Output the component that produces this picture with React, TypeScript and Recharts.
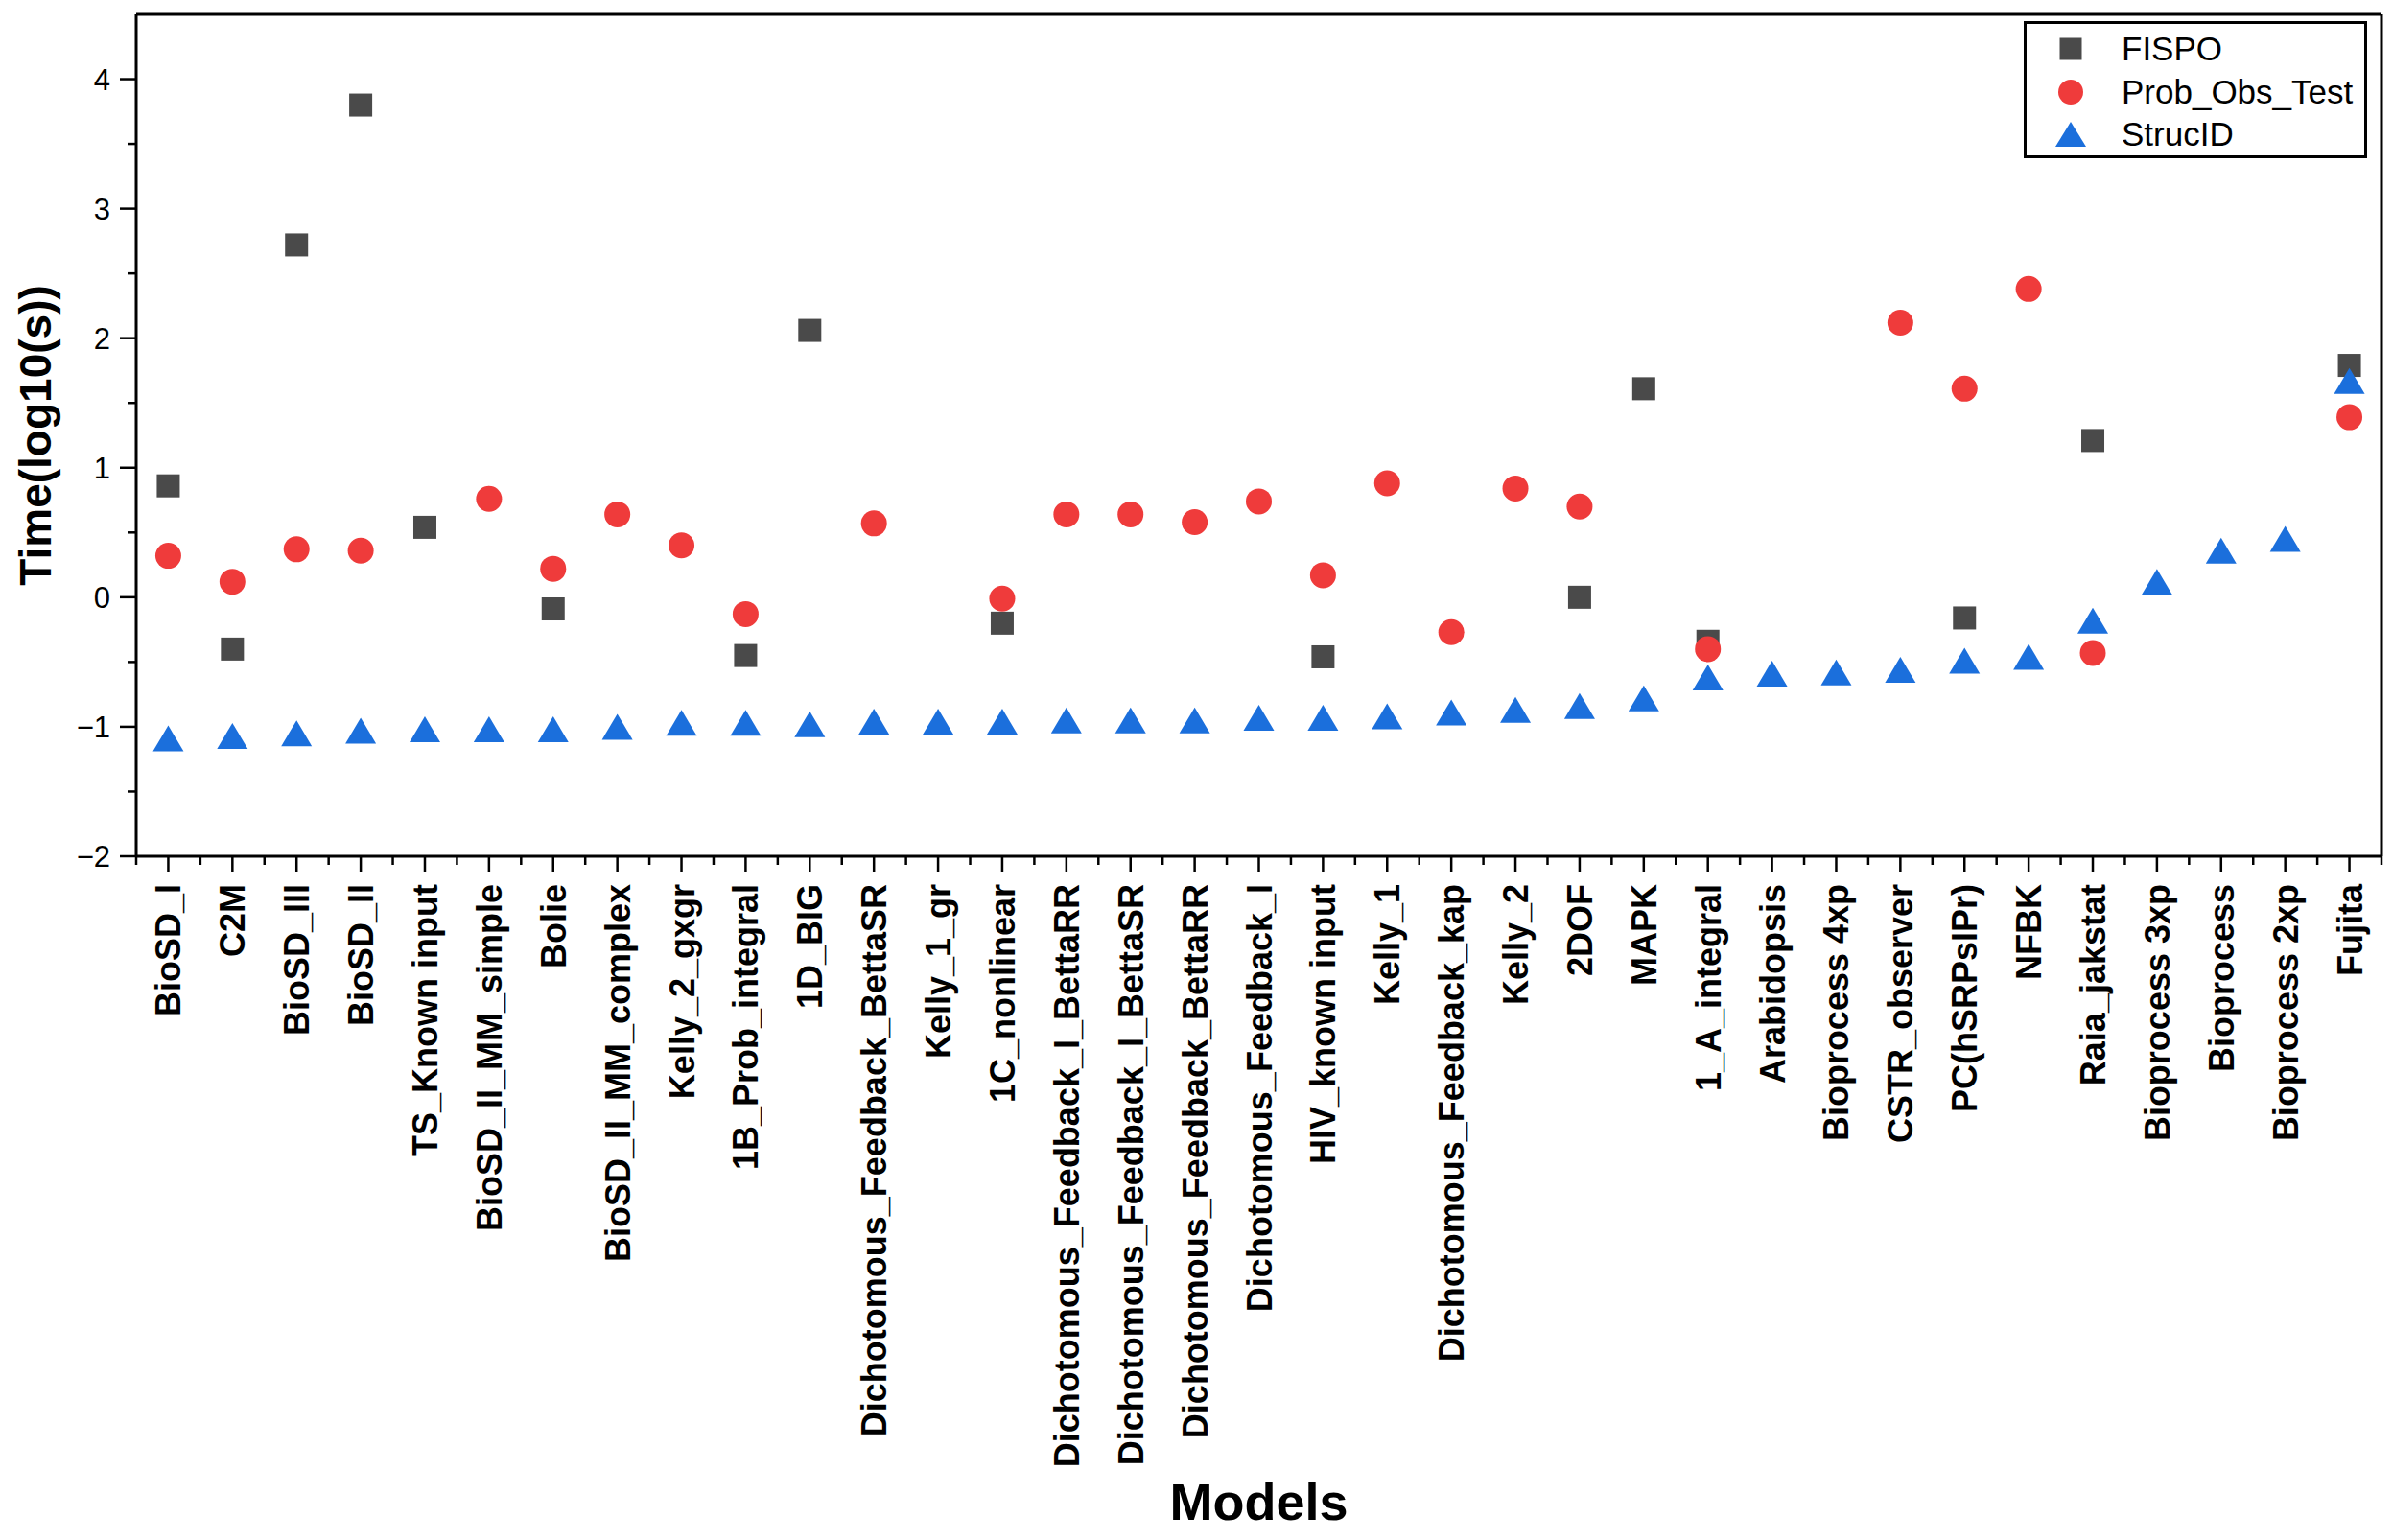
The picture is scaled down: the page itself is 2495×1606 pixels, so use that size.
import React from 'react';
import { ScatterChart, Scatter, XAxis, YAxis, ReferenceLine, Legend } from 'recharts';

const FONT = '"Liberation Sans", Arial, sans-serif';

// model names along the x axis
const models = [
  'BioSD_I', 'C2M', 'BioSD_III', 'BioSD_II', 'TS_Known input', 'BioSD_II_MM_simple', 'Bolie',
  'BioSD_II_MM_complex', 'Kelly_2_gxgr', '1B_Prob_integral', '1D_BIG', 'Dichotomous_Feedback_BettaSR',
  'Kelly_1_gr', '1C_nonlinear', 'Dichotomous_Feedback_I_BettaRR', 'Dichotomous_Feedback_I_BettaSR',
  'Dichotomous_Feedback_BettaRR', 'Dichotomous_Feedback_I', 'HIV_known input', 'Kelly_1',
  'Dichotomous_Feedback_kap', 'Kelly_2', '2DOF', 'MAPK', '1_A_integral', 'Arabidopsis',
  'Bioprocess 4xp', 'CSTR_observer', 'PC(hSRPsIPr)', 'NFBK', 'Raia_jakstat', 'Bioprocess 3xp',
  'Bioprocess', 'Bioprocess 2xp', 'Fujita',
];

// log10 of run time in seconds, null = no result
const fispo = [
  0.86, -0.40, 2.72, 3.80, 0.54, null, -0.09, null, null, -0.45, 2.06, null,
  null, -0.20, null, null, null, null, -0.46, null, null, null, 0.00, 1.61,
  -0.34, null, null, null, -0.16, null, 1.21, null, null, null, 1.79,
];
const probObsTest = [
  0.32, 0.12, 0.37, 0.36, null, 0.76, 0.22, 0.64, 0.40, -0.13, null, 0.57,
  null, -0.01, 0.64, 0.64, 0.58, 0.74, 0.17, 0.88, -0.27, 0.84, 0.70, null,
  -0.40, null, null, 2.12, 1.61, 2.38, -0.43, null, null, null, 1.39,
];
const strucId = [
  -1.09, -1.07, -1.05, -1.03, -1.02, -1.02, -1.02, -1.00, -0.97, -0.97, -0.98, -0.96,
  -0.96, -0.96, -0.95, -0.95, -0.95, -0.93, -0.93, -0.92, -0.89, -0.87, -0.84, -0.78,
  -0.62, -0.59, -0.58, -0.56, -0.49, -0.46, -0.18, 0.12, 0.36, 0.45, 1.67,
];

const yTicks = [-2, -1.5, -1, -0.5, 0, 0.5, 1, 1.5, 2, 2.5, 3, 3.5, 4];
const xTicks = Array.from({ length: models.length * 2 + 1 }, (_, i) => 0.5 + i * 0.5);

const toPoints = (vals: (number | null)[]) =>
  vals.map((v, i) => (v == null ? null : { x: i + 1, y: v })).filter(Boolean) as { x: number; y: number }[];

const COLORS = { fispo: '#4a4a4a', prob: '#ef3b3b', struc: '#1b6fdc' };

const SquareShape = (p: any) => (
  <rect x={p.cx - 12} y={p.cy - 12} width={24} height={24} fill={COLORS.fispo} />
);
const CircleShape = (p: any) => <circle cx={p.cx} cy={p.cy} r={13.5} fill={COLORS.prob} />;
const TriangleShape = (p: any) => (
  <polygon
    points={`${p.cx},${p.cy - 13.5} ${p.cx + 16},${p.cy + 13.5} ${p.cx - 16},${p.cy + 13.5}`}
    fill={COLORS.struc}
  />
);

const XTick = ({ x, y, payload }: any) => {
  const v = payload.value;
  const major = Number.isInteger(v);
  return (
    <g>
      <line x1={x} y1={y} x2={x} y2={y + (major ? 16 : 9)} stroke="#000" strokeWidth={2.5} />
      {major && (
        <text
          x={x + 13}
          y={y + 29}
          transform={`rotate(-90, ${x + 13}, ${y + 29})`}
          textAnchor="end"
          fontFamily={FONT}
          fontWeight="bold"
          fontSize={36}
          fill="#000"
        >
          {models[v - 1]}
        </text>
      )}
    </g>
  );
};

const YTick = ({ x, y, payload }: any) => {
  const v = payload.value;
  const major = Number.isInteger(v);
  return (
    <g>
      <line x1={x - (major ? 17 : 9)} y1={y} x2={x} y2={y} stroke="#000" strokeWidth={2.5} />
      {major && (
        <text x={x - 27} y={y} dy="0.36em" textAnchor="end" fontFamily={FONT} fontSize={31} fill="#000">
          {v < 0 ? `\u2212${Math.abs(v)}` : v}
        </text>
      )}
    </g>
  );
};

const legendItems = [
  { name: 'FISPO', kind: 'square', color: COLORS.fispo },
  { name: 'Prob_Obs_Test', kind: 'circle', color: COLORS.prob },
  { name: 'StrucID', kind: 'triangle', color: COLORS.struc },
];

const LegendBox = () => (
  <div
    style={{
      width: 358,
      height: 143,
      boxSizing: 'border-box',
      border: '3px solid #000',
      background: '#fff',
      position: 'relative',
      fontFamily: FONT,
      fontSize: 35,
    }}
  >
    {legendItems.map((it, i) => (
      <div key={it.name} style={{ position: 'absolute', left: 0, top: 26 + i * 44.5 - 20, height: 40, width: 350 }}>
        <svg width={40} height={40} style={{ position: 'absolute', left: 26, top: 0 }}>
          {it.kind === 'square' && <rect x={8.5} y={8.5} width={23} height={23} fill={it.color} />}
          {it.kind === 'circle' && <circle cx={20} cy={20} r={13} fill={it.color} />}
          {it.kind === 'triangle' && <polygon points="20,7 36,33 4,33" fill={it.color} />}
        </svg>
        <span style={{ position: 'absolute', left: 99, top: 0, lineHeight: '40px', whiteSpace: 'nowrap' }}>
          {it.name}
        </span>
      </div>
    ))}
  </div>
);

export default function App() {
  return (
    <div style={{ position: 'absolute', left: 0, top: 0, background: '#fff' }}>
      <ScatterChart width={2495} height={1606} margin={{ top: 15, right: 12, bottom: 0, left: 0 }}>
        <XAxis
          type="number"
          dataKey="x"
          domain={[0.5, 35.5]}
          ticks={xTicks}
          interval={0}
          tick={<XTick />}
          tickLine={false}
          tickSize={0}
          tickMargin={0}
          height={713}
          axisLine={{ stroke: '#000', strokeWidth: 3 }}
          label={{
            content: ({ viewBox }: any) => (
              <text
                x={viewBox.x + viewBox.width / 2}
                y={1585}
                textAnchor="middle"
                fontFamily={FONT}
                fontWeight="bold"
                fontSize={54}
                fill="#000"
              >
                Models
              </text>
            ),
          }}
        />
        <YAxis
          type="number"
          dataKey="y"
          domain={[-2, 4.5]}
          ticks={yTicks}
          interval={0}
          tick={<YTick />}
          tickLine={false}
          tickSize={0}
          tickMargin={0}
          width={142}
          axisLine={{ stroke: '#000', strokeWidth: 3 }}
          label={{
            content: ({ viewBox }: any) => {
              const cy = viewBox.y + viewBox.height / 2;
              return (
                <text
                  x={53}
                  y={cy}
                  transform={`rotate(-90, 53, ${cy})`}
                  textAnchor="middle"
                  fontFamily={FONT}
                  fontWeight="bold"
                  fontSize={46}
                  fill="#000"
                >
                  Time(log10(s))
                </text>
              );
            },
          }}
        />
        <ReferenceLine y={4.5} stroke="#000" strokeWidth={3} />
        <ReferenceLine x={35.5} stroke="#000" strokeWidth={3} />
        <Scatter name="FISPO" data={toPoints(fispo)} shape={SquareShape} isAnimationActive={false} />
        <Scatter name="Prob_Obs_Test" data={toPoints(probObsTest)} shape={CircleShape} isAnimationActive={false} />
        <Scatter name="StrucID" data={toPoints(strucId)} shape={TriangleShape} isAnimationActive={false} />
        <Legend
          layout="vertical"
          align="center"
          verticalAlign="middle"
          content={<LegendBox />}
          wrapperStyle={{ left: 2110, top: 22, width: 358, height: 143, right: 'auto', bottom: 'auto' }}
        />
      </ScatterChart>
    </div>
  );
}
